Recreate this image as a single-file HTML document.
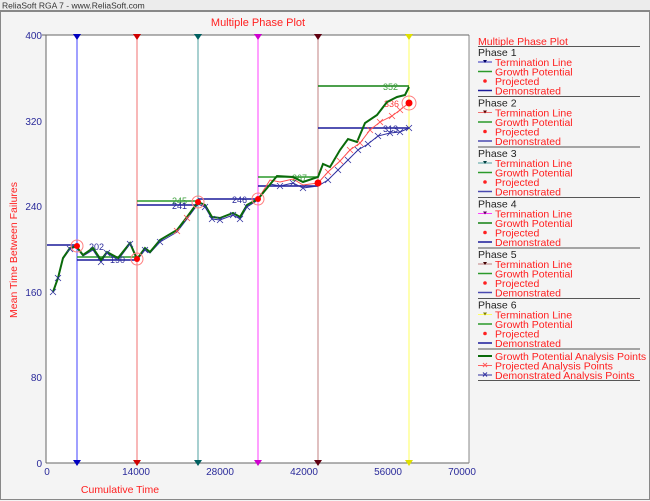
<!DOCTYPE html>
<html><head><meta charset="utf-8"><style>
body{margin:0;background:#fff}
svg{display:block;font-family:"Liberation Sans","DejaVu Sans",sans-serif}
</style></head><body>
<svg width="650" height="501" viewBox="0 0 650 501">
<rect x="0" y="0" width="650" height="501" fill="#f4f4f4"/>
<rect x="0" y="0" width="650" height="11" fill="#ececec"/>
<line x1="0" y1="10.5" x2="650" y2="10.5" stroke="#888"/>
<text x="2" y="8.5" font-size="8.5" fill="#333">ReliaSoft RGA 7 - www.ReliaSoft.com</text>
<rect x="0.5" y="11.5" width="649" height="488" fill="none" stroke="#888"/>
<text x="258" y="26" font-size="11" fill="#ff2020" text-anchor="middle">Multiple Phase Plot</text>
<rect x="46" y="35" width="423" height="428" fill="#fff"/>
<line x1="46" y1="35" x2="46" y2="463" stroke="#666"/>
<line x1="46" y1="463" x2="469" y2="463" stroke="#666"/>
<line x1="469" y1="35" x2="469" y2="463" stroke="#888"/>
<line x1="42" y1="35" x2="469" y2="35" stroke="#666"/>
<g font-size="10" fill="#2a2a9a" text-anchor="end">
<text x="42" y="39">400</text><text x="42" y="125">320</text><text x="42" y="210">240</text>
<text x="42" y="296">160</text><text x="42" y="381">80</text><text x="42" y="467">0</text>
</g>
<g font-size="10" fill="#2a2a9a" text-anchor="middle">
<text x="47" y="475">0</text><text x="136" y="475">14000</text><text x="220" y="475">28000</text>
<text x="304" y="475">42000</text><text x="388" y="475">56000</text><text x="462" y="475">70000</text>
</g>
<text x="120" y="493" font-size="10.5" fill="#ff2020" text-anchor="middle">Cumulative Time</text>
<text transform="translate(17,250) rotate(-90)" font-size="10.5" fill="#ff2020" text-anchor="middle">Mean Time Between Failures</text>

<!-- vertical termination lines -->
<g stroke-width="1">
<line x1="77" y1="35" x2="77" y2="463" stroke="#4040ff"/>
<line x1="137" y1="35" x2="137" y2="463" stroke="#f07070"/>
<line x1="198" y1="35" x2="198" y2="463" stroke="#50a0a0"/>
<line x1="258" y1="35" x2="258" y2="463" stroke="#ff40ff"/>
<line x1="318" y1="35" x2="318" y2="463" stroke="#c08080"/>
<line x1="409" y1="35" x2="409" y2="463" stroke="#ffff60"/>
</g>
<g>
<path d="M73,34h8l-4,6z M73,460h8l-4,6z" fill="#0000c0"/>
<path d="M133,34h8l-4,6z M133,460h8l-4,6z" fill="#d00000"/>
<path d="M194,34h8l-4,6z M194,460h8l-4,6z" fill="#006060"/>
<path d="M254,34h8l-4,6z M254,460h8l-4,6z" fill="#d000d0"/>
<path d="M314,34h8l-4,6z M314,460h8l-4,6z" fill="#600010"/>
<path d="M405,34h8l-4,6z M405,460h8l-4,6z" fill="#e0e000"/>
</g>

<!-- horizontal phase lines -->
<g stroke-width="1.5">
<line x1="47" y1="245" x2="77" y2="245" stroke="#1a1a9a"/>
<line x1="77" y1="257" x2="137" y2="257" stroke="#2a9a2a"/>
<line x1="77" y1="260" x2="137" y2="260" stroke="#1a1a9a"/>
<line x1="137" y1="201" x2="198" y2="201" stroke="#2a9a2a"/>
<line x1="137" y1="205" x2="198" y2="205" stroke="#1a1a9a"/>
<line x1="198" y1="199" x2="258" y2="199" stroke="#1a1a9a"/>
<line x1="258" y1="177" x2="318" y2="177" stroke="#2a9a2a"/>
<line x1="258" y1="186" x2="318" y2="186" stroke="#1a1a9a"/>
<line x1="318" y1="86" x2="409" y2="86" stroke="#108010"/>
<line x1="318" y1="128" x2="409" y2="128" stroke="#1a1a9a"/>
</g>
<g font-size="9">
<text x="89" y="250" fill="#2a2a9a">202</text>
<text x="110" y="263" fill="#2a2a9a">190</text>
<text x="172" y="204" fill="#40a040">245</text>
<text x="172" y="209" fill="#2a2a9a">241</text>
<text x="232" y="203" fill="#2a2a9a">246</text>
<text x="292" y="181" fill="#40a040">267</text>
<text x="383" y="90" fill="#40a040">352</text>
<text x="384" y="107" fill="#ff4040">336</text>
<text x="383" y="132" fill="#2a2a9a">313</text>
</g>

<!-- demonstrated -->
<polyline fill="none" stroke="#3030a0" stroke-width="1" points="53,292 58,278 63,259 70,249 76,247 83,256 93,250 101,262 107,253 118,260 130,244 137,260 145,250 150,253 160,242 177,232 187,219 198,204 205,207 212,219 220,220 233,215 240,219 247,207 258,200 270,184 280,186 293,183 303,188 318,186 328,180 338,170 348,160 358,150 368,144 378,136 390,133 400,132 409,128"/>
<!-- projected -->
<polyline fill="none" stroke="#ff5050" stroke-width="1" points="198,202 205,205 212,217 220,218 233,213 240,217 247,205 258,199 270,180 280,182 293,179 303,185 318,183 328,172 340,161 350,150 360,143 370,130 380,122 392,116 400,110 409,103"/>
<!-- growth potential -->
<polyline fill="none" stroke="#0a6a0a" stroke-width="2" points="53,292 58,278 63,258 70,248 76,246 83,255 93,248 101,260 107,252 118,258 130,243 137,259 145,248 150,252 160,240 177,230 187,217 198,202 205,205 212,217 220,218 233,213 240,217 247,205 258,199 277,176 293,177 303,182 318,177 323,164 330,167 340,150 348,139 357,142 365,123 377,115 387,102 397,97 405,95 409,87"/>
<!-- x markers -->
<g stroke="#3030a0" stroke-width="0.8" fill="none">
<path d="M50,289l6,6m0,-6l-6,6 M55,275l6,6m0,-6l-6,6 M67,246l6,6m0,-6l-6,6 M98,259l6,6m0,-6l-6,6 M104,250l6,6m0,-6l-6,6 M127,241l6,6m0,-6l-6,6 M142,247l6,6m0,-6l-6,6 M157,239l6,6m0,-6l-6,6 M202,204l6,6m0,-6l-6,6 M209,216l6,6m0,-6l-6,6 M217,217l6,6m0,-6l-6,6 M230,212l6,6m0,-6l-6,6 M237,216l6,6m0,-6l-6,6 M244,204l6,6m0,-6l-6,6 M277,183l6,6m0,-6l-6,6 M290,180l6,6m0,-6l-6,6 M300,185l6,6m0,-6l-6,6 M325,177l6,6m0,-6l-6,6 M335,167l6,6m0,-6l-6,6 M345,157l6,6m0,-6l-6,6 M355,147l6,6m0,-6l-6,6 M365,141l6,6m0,-6l-6,6 M375,133l6,6m0,-6l-6,6 M387,130l6,6m0,-6l-6,6 M397,129l6,6m0,-6l-6,6 M406,125l6,6m0,-6l-6,6"/>
</g>
<g stroke="#ff5050" stroke-width="0.8" fill="none">
<path d="M325,169l6,6m0,-6l-6,6 M337,158l6,6m0,-6l-6,6 M347,147l6,6m0,-6l-6,6 M357,140l6,6m0,-6l-6,6 M367,127l6,6m0,-6l-6,6 M377,119l6,6m0,-6l-6,6 M389,113l6,6m0,-6l-6,6 M397,107l6,6m0,-6l-6,6 M174,228l6,6m0,-6l-6,6 M184,215l6,6m0,-6l-6,6"/>
</g>
<!-- projected points -->
<g fill="#ff0000">
<circle cx="77" cy="246" r="3"/><circle cx="137" cy="259" r="3"/><circle cx="198" cy="202" r="3"/>
<circle cx="258" cy="199" r="3"/><circle cx="318" cy="183" r="3.5"/><circle cx="409" cy="103" r="3.5"/>
</g>
<g fill="none" stroke="#ff8080" stroke-width="1">
<circle cx="77" cy="246" r="6"/><circle cx="137" cy="259" r="6"/><circle cx="198" cy="202" r="6"/>
<circle cx="258" cy="199" r="6"/><circle cx="409" cy="103" r="7"/>
</g>

<!-- legend -->
<g font-size="10.5">
<text x="478" y="45" fill="#ff2020">Multiple Phase Plot</text>
<line x1="478" y1="46.5" x2="640" y2="46.5" stroke="#555"/>
</g>
<g font-size="10.5" id="ph">
<text x="478" y="56" fill="#222">Phase 1</text>
<line x1="478" y1="62" x2="492" y2="62" stroke="#3030c0"/><path d="M483,60h4l-2,3z" fill="#000060"/>
<text x="495" y="66" fill="#ff2020">Termination Line</text>
<line x1="478" y1="71.5" x2="492" y2="71.5" stroke="#2a9a2a" stroke-width="1.5"/>
<text x="495" y="75.5" fill="#ff2020">Growth Potential</text>
<circle cx="485" cy="81" r="1.8" fill="#ff2020"/>
<text x="495" y="85" fill="#ff2020">Projected</text>
<line x1="478" y1="90.5" x2="492" y2="90.5" stroke="#1a1a9a" stroke-width="1.5"/>
<text x="495" y="94.5" fill="#ff2020">Demonstrated</text>
<line x1="478" y1="96.5" x2="640" y2="96.5" stroke="#555"/>
</g>
<g font-size="10.5" transform="translate(0,50.5)">
<text x="478" y="56" fill="#222">Phase 2</text>
<line x1="478" y1="62" x2="492" y2="62" stroke="#f07070"/><path d="M483,60h4l-2,3z" fill="#600000"/>
<text x="495" y="66" fill="#ff2020">Termination Line</text>
<line x1="478" y1="71.5" x2="492" y2="71.5" stroke="#2a9a2a" stroke-width="1.5"/>
<text x="495" y="75.5" fill="#ff2020">Growth Potential</text>
<circle cx="485" cy="81" r="1.8" fill="#ff2020"/>
<text x="495" y="85" fill="#ff2020">Projected</text>
<line x1="478" y1="90.5" x2="492" y2="90.5" stroke="#4a4ab0" stroke-width="1.5"/>
<text x="495" y="94.5" fill="#ff2020">Demonstrated</text>
<line x1="478" y1="96.5" x2="640" y2="96.5" stroke="#555"/>
</g>
<g font-size="10.5" transform="translate(0,101)">
<text x="478" y="56" fill="#222">Phase 3</text>
<line x1="478" y1="62" x2="492" y2="62" stroke="#50a0a0"/><path d="M483,60h4l-2,3z" fill="#004040"/>
<text x="495" y="66" fill="#ff2020">Termination Line</text>
<line x1="478" y1="71.5" x2="492" y2="71.5" stroke="#2a9a2a" stroke-width="1.5"/>
<text x="495" y="75.5" fill="#ff2020">Growth Potential</text>
<circle cx="485" cy="81" r="1.8" fill="#ff2020"/>
<text x="495" y="85" fill="#ff2020">Projected</text>
<line x1="478" y1="90.5" x2="492" y2="90.5" stroke="#4a4ab0" stroke-width="1.5"/>
<text x="495" y="94.5" fill="#ff2020">Demonstrated</text>
<line x1="478" y1="96.5" x2="640" y2="96.5" stroke="#555"/>
</g>
<g font-size="10.5" transform="translate(0,151.5)">
<text x="478" y="56" fill="#222">Phase 4</text>
<line x1="478" y1="62" x2="492" y2="62" stroke="#ff40ff"/><path d="M483,60h4l-2,3z" fill="#600060"/>
<text x="495" y="66" fill="#ff2020">Termination Line</text>
<line x1="478" y1="71.5" x2="492" y2="71.5" stroke="#108010" stroke-width="1.5"/>
<text x="495" y="75.5" fill="#ff2020">Growth Potential</text>
<circle cx="485" cy="81" r="1.8" fill="#ff2020"/>
<text x="495" y="85" fill="#ff2020">Projected</text>
<line x1="478" y1="90.5" x2="492" y2="90.5" stroke="#1a1a9a" stroke-width="1.5"/>
<text x="495" y="94.5" fill="#ff2020">Demonstrated</text>
<line x1="478" y1="96.5" x2="640" y2="96.5" stroke="#555"/>
</g>
<g font-size="10.5" transform="translate(0,202)">
<text x="478" y="56" fill="#222">Phase 5</text>
<line x1="478" y1="62" x2="492" y2="62" stroke="#c08080"/><path d="M483,60h4l-2,3z" fill="#400000"/>
<text x="495" y="66" fill="#ff2020">Termination Line</text>
<line x1="478" y1="71.5" x2="492" y2="71.5" stroke="#2a9a2a" stroke-width="1.5"/>
<text x="495" y="75.5" fill="#ff2020">Growth Potential</text>
<circle cx="485" cy="81" r="1.8" fill="#ff2020"/>
<text x="495" y="85" fill="#ff2020">Projected</text>
<line x1="478" y1="90.5" x2="492" y2="90.5" stroke="#4a4ab0" stroke-width="1.5"/>
<text x="495" y="94.5" fill="#ff2020">Demonstrated</text>
<line x1="478" y1="96.5" x2="640" y2="96.5" stroke="#555"/>
</g>
<g font-size="10.5" transform="translate(0,252.5)">
<text x="478" y="56" fill="#222">Phase 6</text>
<line x1="478" y1="62" x2="492" y2="62" stroke="#ffff60"/><path d="M483,60h4l-2,3z" fill="#808000"/>
<text x="495" y="66" fill="#ff2020">Termination Line</text>
<line x1="478" y1="71.5" x2="492" y2="71.5" stroke="#2a9a2a" stroke-width="1.5"/>
<text x="495" y="75.5" fill="#ff2020">Growth Potential</text>
<circle cx="485" cy="81" r="1.8" fill="#ff2020"/>
<text x="495" y="85" fill="#ff2020">Projected</text>
<line x1="478" y1="90.5" x2="492" y2="90.5" stroke="#1a1a9a" stroke-width="1.5"/>
<text x="495" y="94.5" fill="#ff2020">Demonstrated</text>
<line x1="478" y1="96.5" x2="640" y2="96.5" stroke="#555"/>
</g>
<g font-size="10.5">
<line x1="478" y1="356" x2="492" y2="356" stroke="#0a6a0a" stroke-width="2"/>
<text x="495" y="360" fill="#ff2020">Growth Potential Analysis Points</text>
<line x1="478" y1="365.5" x2="492" y2="365.5" stroke="#ff6060"/><path d="M483,363l4,4m0,-4l-4,4" stroke="#ff6060"/>
<text x="495" y="369.5" fill="#ff2020">Projected Analysis Points</text>
<line x1="478" y1="375" x2="492" y2="375" stroke="#3030a0"/><path d="M483,372.5l4,4m0,-4l-4,4" stroke="#3030a0"/>
<text x="495" y="379" fill="#ff2020">Demonstrated Analysis Points</text>
<line x1="478" y1="380.5" x2="640" y2="380.5" stroke="#555"/>
</g>
</svg>
</body></html>
